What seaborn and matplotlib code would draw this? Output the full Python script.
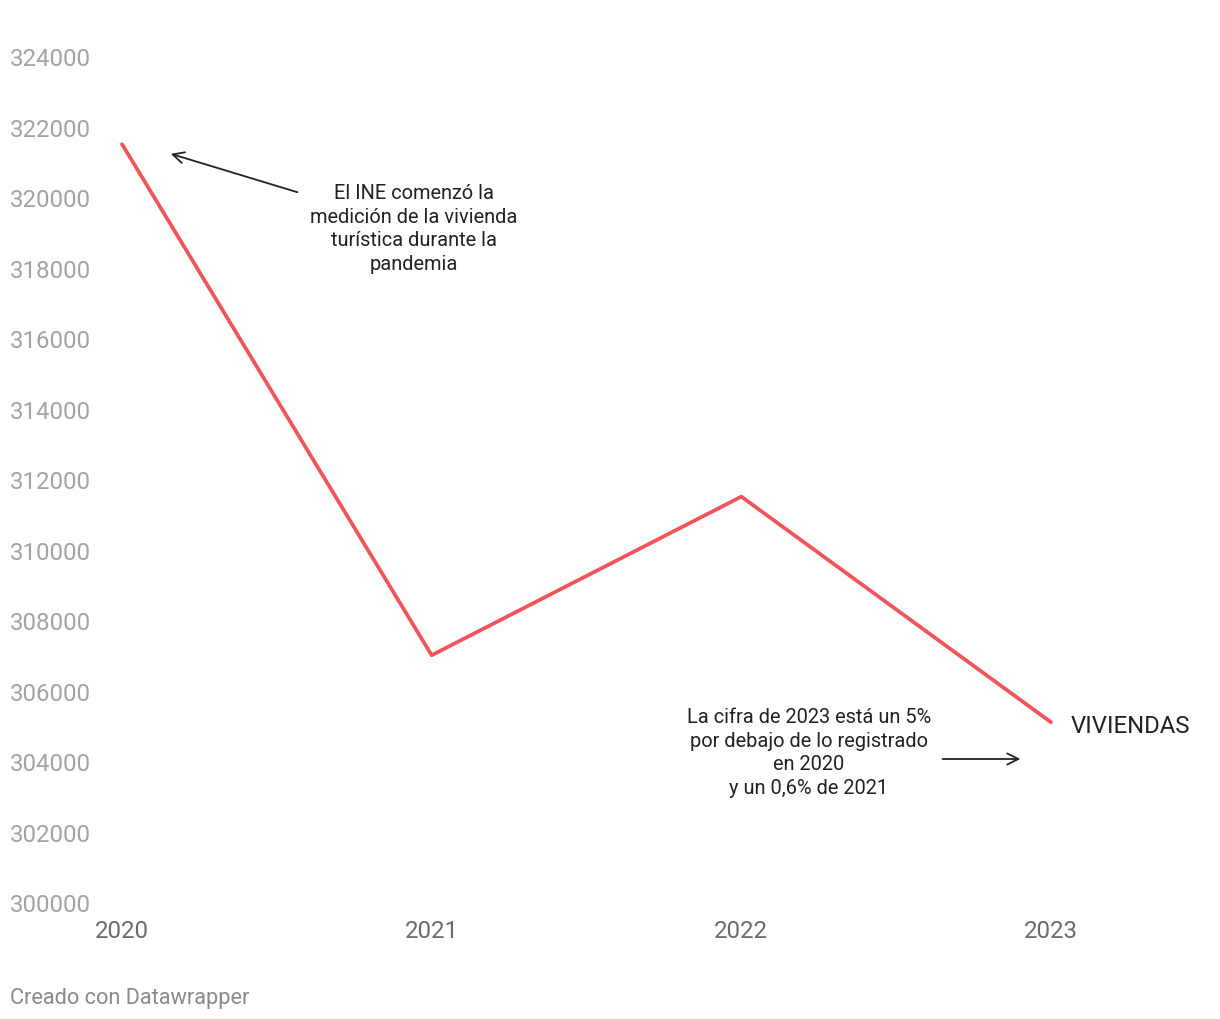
import matplotlib
matplotlib.use("Agg")
import matplotlib.pyplot as plt
import seaborn as sns
import pandas as pd

# Data
years = [2020, 2021, 2022, 2023]
viviendas = [321500, 307000, 311500, 305100]
y_ticks = [300000, 302000, 304000, 306000, 308000, 310000,
           312000, 314000, 316000, 318000, 320000, 322000, 324000]

df = pd.DataFrame({"year": years, "viviendas": viviendas})

sns.set_style("white")
plt.rcParams['font.family'] = ['Roboto', 'DejaVu Sans']

fig = plt.figure(figsize=(12.2, 10.2), dpi=100)
ax = fig.add_axes([122 / 1220, 1 - 903 / 1020, (1051 - 122) / 1220, (903 - 57) / 1020])

sns.lineplot(data=df, x="year", y="viviendas", color="#f2545b", linewidth=2.7, ax=ax)
for line in ax.lines:
    line.set_clip_on(False)

ax.set_xlim(2020, 2023)
ax.set_ylim(300000, 324000)
ax.set_xticks(years)
ax.set_xticklabels([str(y) for y in years], color="#6b6b6b", fontsize=17.3)
ax.set_yticks(y_ticks)
ax.set_yticklabels([str(t) for t in y_ticks], color="#a3a3a3", fontsize=17.3, ha="left")
ax.tick_params(axis="y", length=0, pad=80.6)
ax.tick_params(axis="x", length=0, pad=12.5)
ax.set_xlabel("")
ax.set_ylabel("")
for s in ax.spines.values():
    s.set_visible(False)
ax.grid(False)

# Annotations
ax.annotate("", xy=(2020.149, 321248), xytext=(2020.575, 320113),
            arrowprops=dict(arrowstyle="->", color="#222222", lw=1.3, mutation_scale=20))
ax.text(2020.943, 319121,
        "El INE comenzó la\nmedición de la vivienda\nturística durante la\npandemia",
        ha="center", va="center", fontsize=14.4, color="#222222", linespacing=1.31)

ax.annotate("", xy=(2022.910, 304057), xytext=(2022.641, 304057),
            arrowprops=dict(arrowstyle="->", color="#222222", lw=1.3, mutation_scale=20),
            annotation_clip=False)
ax.text(2022.218, 304255,
        "La cifra de 2023 está un 5%\npor debajo de lo registrado\nen 2020\ny un 0,6% de 2021",
        ha="center", va="center", fontsize=14.4, color="#222222", linespacing=1.31)

ax.text(2023.065, 305021, "VIVIENDAS", ha="left", va="center",
        fontsize=17.2, color="#222222", clip_on=False)

fig.text(10 / 1220, 1 - 999 / 1020, "Creado con Datawrapper", ha="left", va="center",
         fontsize=15.7, color="#8a8a8a")

fig.savefig("out.png", dpi=100, facecolor="white")
